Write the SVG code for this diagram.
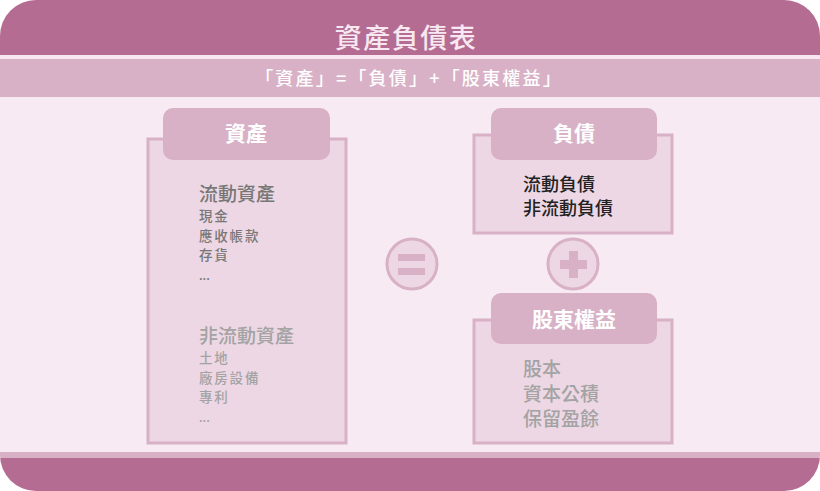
<svg xmlns="http://www.w3.org/2000/svg" width="820" height="491" viewBox="0 0 820 491">
<style>
text{font-family:"Noto Sans CJK TC","Noto Sans CJK SC",sans-serif}
.box{fill:#EDD7E4;stroke:#D8B1C7;stroke-width:3}
.tab{fill:#D8B1C7}
.hd{fill:#FFFFFF;font-size:21px;font-weight:bold;text-anchor:middle}
.g1{fill:#777777;font-weight:500}
.g2{fill:#A3A3A3;font-weight:500}
.sm{font-size:13.5px;letter-spacing:1.8px}
.dk{fill:#222222;font-size:18px;font-weight:500}
.sym{fill:#EDD7E4;stroke:#D8B1C7;stroke-width:3}
.symf{fill:#D8B1C7}
</style>
<defs>
<clipPath id="frame"><rect x="0" y="0" width="820" height="491" rx="36" ry="36"/></clipPath>
</defs>
<g id="background" clip-path="url(#frame)">
<rect x="0" y="0" width="820" height="491" fill="#F7EAF2"/>
<rect x="0" y="0" width="820" height="55" fill="#B56C93"/>
<rect x="0" y="55" width="820" height="4" fill="#F8E6F0"/>
<rect x="0" y="59" width="820" height="38" fill="#D8B1C7"/>
<rect x="0" y="452" width="820" height="6" fill="#D8B1C7"/>
<rect x="0" y="458" width="820" height="33" fill="#B56C93"/>
</g>
<g id="title">
<text x="406" y="48" font-size="27" font-weight="500" fill="#F8E8F1" text-anchor="middle" letter-spacing="1.5">資產負債表</text>
<text x="409" y="85" font-size="18" font-weight="500" fill="#FFFFFF" text-anchor="middle" letter-spacing="2.2">「資產」=「負債」+「股東權益」</text>
</g>
<g id="assets">
<rect class="box" x="148" y="139" width="198" height="304"/>
<rect class="tab" x="163" y="108" width="167" height="52" rx="10"/>
<text class="hd" x="246" y="141">資產</text>
<text class="g1" x="199" y="201" font-size="19">流動資產</text>
<text class="g1 sm" x="199" y="221">現金</text>
<text class="g1 sm" x="199" y="240.5">應收帳款</text>
<text class="g1 sm" x="199" y="260">存貨</text>
<text class="g1" x="199" y="280" font-size="12">...</text>
<text class="g2" x="199" y="343" font-size="19">非流動資產</text>
<text class="g2 sm" x="199" y="363">土地</text>
<text class="g2 sm" x="199" y="382.5">廠房設備</text>
<text class="g2 sm" x="199" y="402">專利</text>
<text class="g2" x="199" y="422" font-size="12">...</text>
</g>
<g id="equals">
<circle class="sym" cx="412" cy="264" r="25"/>
<rect class="symf" x="398" y="254" width="27" height="7"/>
<rect class="symf" x="398" y="268" width="27" height="7"/>
</g>
<g id="liabilities">
<rect class="box" x="474" y="135" width="198" height="98"/>
<rect class="tab" x="491" y="108" width="166" height="52" rx="10"/>
<text class="hd" x="574" y="141">負債</text>
<text class="dk" x="523" y="191">流動負債</text>
<text class="dk" x="523" y="215">非流動負債</text>
</g>
<g id="plus">
<circle class="sym" cx="573" cy="264" r="25"/>
<rect class="symf" x="560" y="260" width="27" height="9"/>
<rect class="symf" x="569" y="251" width="9" height="27"/>
</g>
<g id="equity">
<rect class="box" x="474" y="320" width="198" height="123"/>
<rect class="tab" x="491" y="293" width="166" height="51" rx="10"/>
<text class="hd" x="574" y="327">股東權益</text>
<text class="g2" x="523" y="376" font-size="19">股本</text>
<text class="g2" x="523" y="401" font-size="19">資本公積</text>
<text class="g2" x="523" y="426" font-size="19">保留盈餘</text>
</g>
<g id="connectors"></g>
</svg>
